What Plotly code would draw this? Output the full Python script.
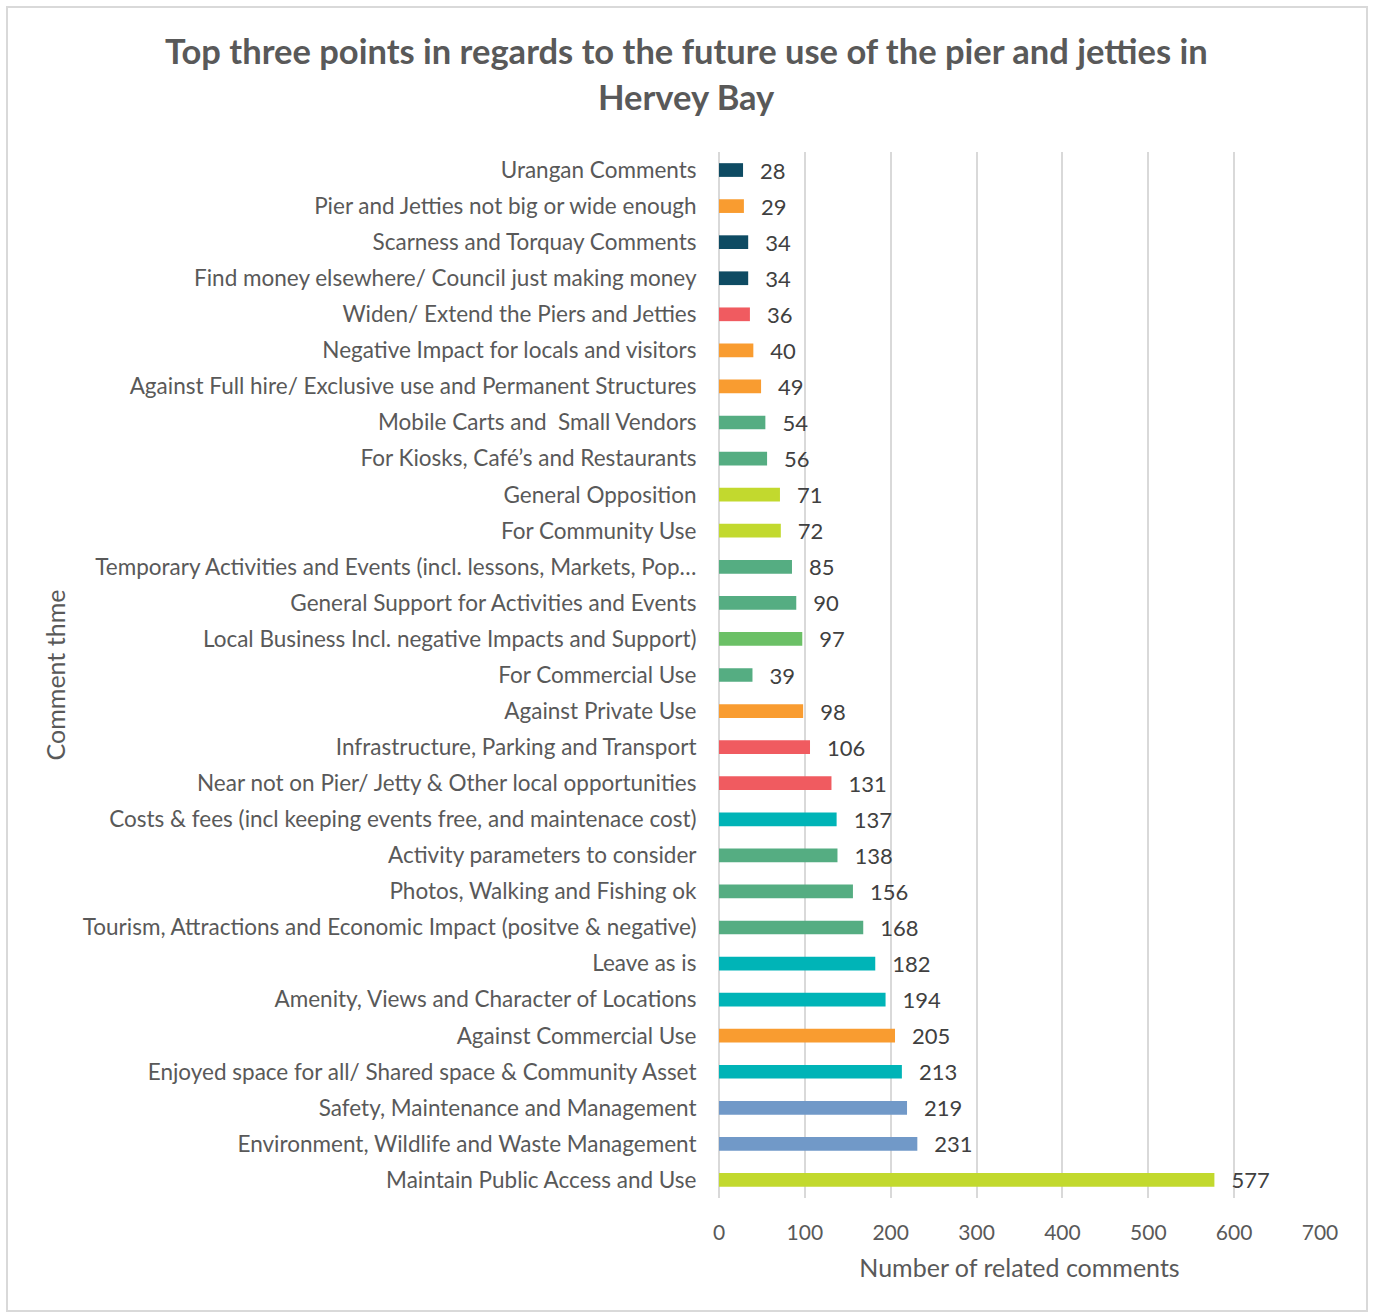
import plotly.graph_objects as go

# Comment themes, listed top to bottom as they appear on the chart
themes = [
    "Urangan Comments",
    "Pier and Jetties not big or wide enough",
    "Scarness and Torquay Comments",
    "Find money elsewhere/ Council just making money",
    "Widen/ Extend the Piers and Jetties",
    "Negative Impact for locals and visitors",
    "Against Full hire/ Exclusive use and Permanent Structures",
    "Mobile Carts and  Small Vendors",
    "For Kiosks, Café’s and Restaurants",
    "General Opposition",
    "For Community Use",
    "Temporary Activities and Events (incl. lessons, Markets, Pop…",
    "General Support for Activities and Events",
    "Local Business Incl. negative Impacts and Support)",
    "For Commercial Use",
    "Against Private Use",
    "Infrastructure, Parking and Transport",
    "Near not on Pier/ Jetty & Other local opportunities",
    "Costs & fees (incl keeping events free, and maintenace cost)",
    "Activity parameters to consider",
    "Photos, Walking and Fishing ok",
    "Tourism, Attractions and Economic Impact (positve & negative)",
    "Leave as is",
    "Amenity, Views and Character of Locations",
    "Against Commercial Use",
    "Enjoyed space for all/ Shared space & Community Asset",
    "Safety, Maintenance and Management",
    "Environment, Wildlife and Waste Management",
    "Maintain Public Access and Use",
]

counts = [28, 29, 34, 34, 36, 40, 49, 54, 56, 71, 72, 85, 90, 97, 39,
          98, 106, 131, 137, 138, 156, 168, 182, 194, 205, 213, 219, 231, 577]

# Colour group of each theme
groups = ["navy", "orange", "navy", "navy", "red", "orange", "orange", "green",
          "green", "lime", "lime", "green", "green", "leaf", "green", "orange",
          "red", "red", "teal", "green", "green", "green", "teal", "teal",
          "orange", "teal", "blue", "blue", "lime"]

palette = {
    "navy": "#0E4B63",
    "orange": "#F99C30",
    "red": "#F05B60",
    "green": "#55AD82",
    "lime": "#C2D92E",
    "leaf": "#6BC066",
    "teal": "#00B4B7",
    "blue": "#7199C8",
}

title_lines = [
    "Top three points in regards to the future use of the pier and jetties in",
    "Hervey Bay",
]

W, H = 1373, 1313
L, R, T, B = 719, 53, 152, 115
FONT = "Lato, sans-serif"

fig = go.Figure(
    go.Bar(
        x=counts,
        y=themes,
        orientation="h",
        marker=dict(color=[palette[g] for g in groups], line=dict(width=0)),
        width=0.38,
        text=counts,
        texttemplate="  \u2009%{x}",
        textposition="outside",
        constraintext="none",
        textfont=dict(family=FONT, size=22, color="#404040"),
        cliponaxis=False,
        hoverinfo="x+y",
    )
)

pw = W - L - R
ph = H - T - B


def px_x(v):
    return (v - L) / pw


def px_y(v):
    return (H - B - v) / ph


annotations = [
    dict(
        text=line,
        xref="paper",
        yref="paper",
        x=px_x(W / 2),
        y=px_y(yc),
        xanchor="center",
        yanchor="middle",
        showarrow=False,
        font=dict(family=FONT, size=34.5, color="#595959", weight="bold"),
    )
    for line, yc in zip(title_lines, [51, 96])
]

fig.update_layout(
    width=W,
    height=H,
    margin=dict(l=L, r=R, t=T, b=B),
    paper_bgcolor="white",
    plot_bgcolor="white",
    showlegend=False,
    font=dict(family=FONT, color="#595959"),
    annotations=annotations,
    xaxis=dict(
        range=[0, 700],
        dtick=100,
        showgrid=True,
        gridcolor="#D9D9D9",
        gridwidth=2,
        zeroline=True,
        zerolinecolor="#D9D9D9",
        zerolinewidth=2,
        showline=False,
        ticks="outside",
        ticklen=16,
        tickcolor="rgba(0,0,0,0)",
        tickfont=dict(size=21, color="#595959"),
        title=dict(
            text="Number of related comments",
            font=dict(size=25, color="#595959"),
            standoff=16,
        ),
        fixedrange=True,
    ),
    yaxis=dict(
        autorange="reversed",
        showgrid=False,
        showline=False,
        ticks="outside",
        ticklen=17,
        tickcolor="rgba(0,0,0,0)",
        tickfont=dict(size=22.5, color="#595959"),
        title=dict(
            text="Comment thme",
            font=dict(size=25, color="#595959"),
            standoff=10,
        ),
        automargin=False,
        fixedrange=True,
    ),
    shapes=[
        dict(
            type="rect",
            xref="paper",
            yref="paper",
            x0=px_x(7),
            x1=px_x(1367),
            y0=px_y(1311),
            y1=px_y(7),
            line=dict(color="#D9D9D9", width=2),
            fillcolor="rgba(0,0,0,0)",
            layer="below",
        )
    ],
)

fig.write_html("out.html")
